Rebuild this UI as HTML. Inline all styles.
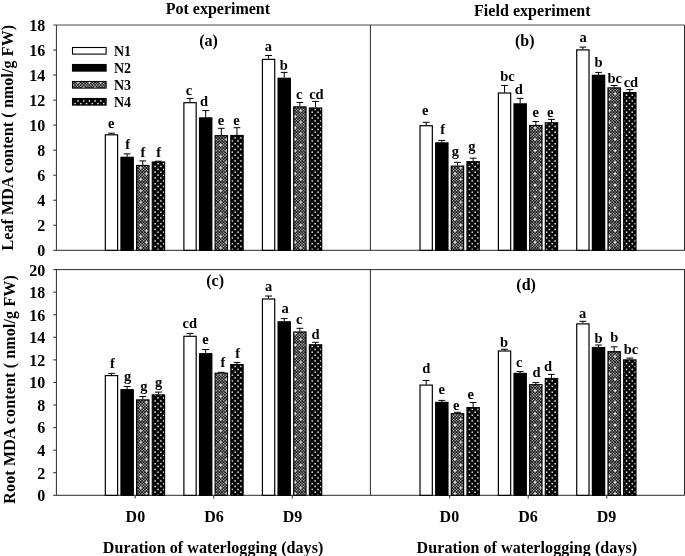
<!DOCTYPE html>
<html lang="en"><head><meta charset="utf-8"><title>MDA content under waterlogging</title>
<style>html,body{margin:0;padding:0;background:#fff}body{width:685px;height:556px;overflow:hidden}svg{display:block;will-change:transform;transform:translateZ(0)}</style>
</head><body>
<svg width="685" height="556" viewBox="0 0 685 556" font-family="'Liberation Serif', 'Times New Roman', serif" font-weight="bold" fill="#000">
<defs>
<pattern id="p3" patternUnits="userSpaceOnUse" width="40" height="40" x="0.085" y="0.085"><rect width="40" height="40" fill="#cfcfcf"/><path d="M-0.080 1.349h1.589v1.589h-1.589zM-0.080 4.206h1.589v1.589h-1.589zM-0.080 7.063h1.589v1.589h-1.589zM-0.080 9.920h1.589v1.589h-1.589zM-0.080 12.777h1.589v1.589h-1.589zM-0.080 15.634h1.589v1.589h-1.589zM-0.080 18.491h1.589v1.589h-1.589zM-0.080 21.349h1.589v1.589h-1.589zM-0.080 24.206h1.589v1.589h-1.589zM-0.080 27.063h1.589v1.589h-1.589zM-0.080 29.920h1.589v1.589h-1.589zM-0.080 32.777h1.589v1.589h-1.589zM-0.080 35.634h1.589v1.589h-1.589zM-0.080 38.491h1.589v1.589h-1.589zM1.349 -0.080h1.589v1.589h-1.589zM1.349 2.777h1.589v1.589h-1.589zM1.349 5.634h1.589v1.589h-1.589zM1.349 8.491h1.589v1.589h-1.589zM1.349 11.349h1.589v1.589h-1.589zM1.349 14.206h1.589v1.589h-1.589zM1.349 17.063h1.589v1.589h-1.589zM1.349 19.920h1.589v1.589h-1.589zM1.349 22.777h1.589v1.589h-1.589zM1.349 25.634h1.589v1.589h-1.589zM1.349 28.491h1.589v1.589h-1.589zM1.349 31.349h1.589v1.589h-1.589zM1.349 34.206h1.589v1.589h-1.589zM1.349 37.063h1.589v1.589h-1.589zM2.777 1.349h1.589v1.589h-1.589zM2.777 4.206h1.589v1.589h-1.589zM2.777 7.063h1.589v1.589h-1.589zM2.777 9.920h1.589v1.589h-1.589zM2.777 12.777h1.589v1.589h-1.589zM2.777 15.634h1.589v1.589h-1.589zM2.777 18.491h1.589v1.589h-1.589zM2.777 21.349h1.589v1.589h-1.589zM2.777 24.206h1.589v1.589h-1.589zM2.777 27.063h1.589v1.589h-1.589zM2.777 29.920h1.589v1.589h-1.589zM2.777 32.777h1.589v1.589h-1.589zM2.777 35.634h1.589v1.589h-1.589zM2.777 38.491h1.589v1.589h-1.589zM4.206 -0.080h1.589v1.589h-1.589zM4.206 2.777h1.589v1.589h-1.589zM4.206 5.634h1.589v1.589h-1.589zM4.206 8.491h1.589v1.589h-1.589zM4.206 11.349h1.589v1.589h-1.589zM4.206 14.206h1.589v1.589h-1.589zM4.206 17.063h1.589v1.589h-1.589zM4.206 19.920h1.589v1.589h-1.589zM4.206 22.777h1.589v1.589h-1.589zM4.206 25.634h1.589v1.589h-1.589zM4.206 28.491h1.589v1.589h-1.589zM4.206 31.349h1.589v1.589h-1.589zM4.206 34.206h1.589v1.589h-1.589zM4.206 37.063h1.589v1.589h-1.589zM5.634 1.349h1.589v1.589h-1.589zM5.634 4.206h1.589v1.589h-1.589zM5.634 7.063h1.589v1.589h-1.589zM5.634 9.920h1.589v1.589h-1.589zM5.634 12.777h1.589v1.589h-1.589zM5.634 15.634h1.589v1.589h-1.589zM5.634 18.491h1.589v1.589h-1.589zM5.634 21.349h1.589v1.589h-1.589zM5.634 24.206h1.589v1.589h-1.589zM5.634 27.063h1.589v1.589h-1.589zM5.634 29.920h1.589v1.589h-1.589zM5.634 32.777h1.589v1.589h-1.589zM5.634 35.634h1.589v1.589h-1.589zM5.634 38.491h1.589v1.589h-1.589zM7.063 -0.080h1.589v1.589h-1.589zM7.063 2.777h1.589v1.589h-1.589zM7.063 5.634h1.589v1.589h-1.589zM7.063 8.491h1.589v1.589h-1.589zM7.063 11.349h1.589v1.589h-1.589zM7.063 14.206h1.589v1.589h-1.589zM7.063 17.063h1.589v1.589h-1.589zM7.063 19.920h1.589v1.589h-1.589zM7.063 22.777h1.589v1.589h-1.589zM7.063 25.634h1.589v1.589h-1.589zM7.063 28.491h1.589v1.589h-1.589zM7.063 31.349h1.589v1.589h-1.589zM7.063 34.206h1.589v1.589h-1.589zM7.063 37.063h1.589v1.589h-1.589zM8.491 1.349h1.589v1.589h-1.589zM8.491 4.206h1.589v1.589h-1.589zM8.491 7.063h1.589v1.589h-1.589zM8.491 9.920h1.589v1.589h-1.589zM8.491 12.777h1.589v1.589h-1.589zM8.491 15.634h1.589v1.589h-1.589zM8.491 18.491h1.589v1.589h-1.589zM8.491 21.349h1.589v1.589h-1.589zM8.491 24.206h1.589v1.589h-1.589zM8.491 27.063h1.589v1.589h-1.589zM8.491 29.920h1.589v1.589h-1.589zM8.491 32.777h1.589v1.589h-1.589zM8.491 35.634h1.589v1.589h-1.589zM8.491 38.491h1.589v1.589h-1.589zM9.920 -0.080h1.589v1.589h-1.589zM9.920 2.777h1.589v1.589h-1.589zM9.920 5.634h1.589v1.589h-1.589zM9.920 8.491h1.589v1.589h-1.589zM9.920 11.349h1.589v1.589h-1.589zM9.920 14.206h1.589v1.589h-1.589zM9.920 17.063h1.589v1.589h-1.589zM9.920 19.920h1.589v1.589h-1.589zM9.920 22.777h1.589v1.589h-1.589zM9.920 25.634h1.589v1.589h-1.589zM9.920 28.491h1.589v1.589h-1.589zM9.920 31.349h1.589v1.589h-1.589zM9.920 34.206h1.589v1.589h-1.589zM9.920 37.063h1.589v1.589h-1.589zM11.349 1.349h1.589v1.589h-1.589zM11.349 4.206h1.589v1.589h-1.589zM11.349 7.063h1.589v1.589h-1.589zM11.349 9.920h1.589v1.589h-1.589zM11.349 12.777h1.589v1.589h-1.589zM11.349 15.634h1.589v1.589h-1.589zM11.349 18.491h1.589v1.589h-1.589zM11.349 21.349h1.589v1.589h-1.589zM11.349 24.206h1.589v1.589h-1.589zM11.349 27.063h1.589v1.589h-1.589zM11.349 29.920h1.589v1.589h-1.589zM11.349 32.777h1.589v1.589h-1.589zM11.349 35.634h1.589v1.589h-1.589zM11.349 38.491h1.589v1.589h-1.589zM12.777 -0.080h1.589v1.589h-1.589zM12.777 2.777h1.589v1.589h-1.589zM12.777 5.634h1.589v1.589h-1.589zM12.777 8.491h1.589v1.589h-1.589zM12.777 11.349h1.589v1.589h-1.589zM12.777 14.206h1.589v1.589h-1.589zM12.777 17.063h1.589v1.589h-1.589zM12.777 19.920h1.589v1.589h-1.589zM12.777 22.777h1.589v1.589h-1.589zM12.777 25.634h1.589v1.589h-1.589zM12.777 28.491h1.589v1.589h-1.589zM12.777 31.349h1.589v1.589h-1.589zM12.777 34.206h1.589v1.589h-1.589zM12.777 37.063h1.589v1.589h-1.589zM14.206 1.349h1.589v1.589h-1.589zM14.206 4.206h1.589v1.589h-1.589zM14.206 7.063h1.589v1.589h-1.589zM14.206 9.920h1.589v1.589h-1.589zM14.206 12.777h1.589v1.589h-1.589zM14.206 15.634h1.589v1.589h-1.589zM14.206 18.491h1.589v1.589h-1.589zM14.206 21.349h1.589v1.589h-1.589zM14.206 24.206h1.589v1.589h-1.589zM14.206 27.063h1.589v1.589h-1.589zM14.206 29.920h1.589v1.589h-1.589zM14.206 32.777h1.589v1.589h-1.589zM14.206 35.634h1.589v1.589h-1.589zM14.206 38.491h1.589v1.589h-1.589zM15.634 -0.080h1.589v1.589h-1.589zM15.634 2.777h1.589v1.589h-1.589zM15.634 5.634h1.589v1.589h-1.589zM15.634 8.491h1.589v1.589h-1.589zM15.634 11.349h1.589v1.589h-1.589zM15.634 14.206h1.589v1.589h-1.589zM15.634 17.063h1.589v1.589h-1.589zM15.634 19.920h1.589v1.589h-1.589zM15.634 22.777h1.589v1.589h-1.589zM15.634 25.634h1.589v1.589h-1.589zM15.634 28.491h1.589v1.589h-1.589zM15.634 31.349h1.589v1.589h-1.589zM15.634 34.206h1.589v1.589h-1.589zM15.634 37.063h1.589v1.589h-1.589zM17.063 1.349h1.589v1.589h-1.589zM17.063 4.206h1.589v1.589h-1.589zM17.063 7.063h1.589v1.589h-1.589zM17.063 9.920h1.589v1.589h-1.589zM17.063 12.777h1.589v1.589h-1.589zM17.063 15.634h1.589v1.589h-1.589zM17.063 18.491h1.589v1.589h-1.589zM17.063 21.349h1.589v1.589h-1.589zM17.063 24.206h1.589v1.589h-1.589zM17.063 27.063h1.589v1.589h-1.589zM17.063 29.920h1.589v1.589h-1.589zM17.063 32.777h1.589v1.589h-1.589zM17.063 35.634h1.589v1.589h-1.589zM17.063 38.491h1.589v1.589h-1.589zM18.491 -0.080h1.589v1.589h-1.589zM18.491 2.777h1.589v1.589h-1.589zM18.491 5.634h1.589v1.589h-1.589zM18.491 8.491h1.589v1.589h-1.589zM18.491 11.349h1.589v1.589h-1.589zM18.491 14.206h1.589v1.589h-1.589zM18.491 17.063h1.589v1.589h-1.589zM18.491 19.920h1.589v1.589h-1.589zM18.491 22.777h1.589v1.589h-1.589zM18.491 25.634h1.589v1.589h-1.589zM18.491 28.491h1.589v1.589h-1.589zM18.491 31.349h1.589v1.589h-1.589zM18.491 34.206h1.589v1.589h-1.589zM18.491 37.063h1.589v1.589h-1.589zM19.920 1.349h1.589v1.589h-1.589zM19.920 4.206h1.589v1.589h-1.589zM19.920 7.063h1.589v1.589h-1.589zM19.920 9.920h1.589v1.589h-1.589zM19.920 12.777h1.589v1.589h-1.589zM19.920 15.634h1.589v1.589h-1.589zM19.920 18.491h1.589v1.589h-1.589zM19.920 21.349h1.589v1.589h-1.589zM19.920 24.206h1.589v1.589h-1.589zM19.920 27.063h1.589v1.589h-1.589zM19.920 29.920h1.589v1.589h-1.589zM19.920 32.777h1.589v1.589h-1.589zM19.920 35.634h1.589v1.589h-1.589zM19.920 38.491h1.589v1.589h-1.589zM21.349 -0.080h1.589v1.589h-1.589zM21.349 2.777h1.589v1.589h-1.589zM21.349 5.634h1.589v1.589h-1.589zM21.349 8.491h1.589v1.589h-1.589zM21.349 11.349h1.589v1.589h-1.589zM21.349 14.206h1.589v1.589h-1.589zM21.349 17.063h1.589v1.589h-1.589zM21.349 19.920h1.589v1.589h-1.589zM21.349 22.777h1.589v1.589h-1.589zM21.349 25.634h1.589v1.589h-1.589zM21.349 28.491h1.589v1.589h-1.589zM21.349 31.349h1.589v1.589h-1.589zM21.349 34.206h1.589v1.589h-1.589zM21.349 37.063h1.589v1.589h-1.589zM22.777 1.349h1.589v1.589h-1.589zM22.777 4.206h1.589v1.589h-1.589zM22.777 7.063h1.589v1.589h-1.589zM22.777 9.920h1.589v1.589h-1.589zM22.777 12.777h1.589v1.589h-1.589zM22.777 15.634h1.589v1.589h-1.589zM22.777 18.491h1.589v1.589h-1.589zM22.777 21.349h1.589v1.589h-1.589zM22.777 24.206h1.589v1.589h-1.589zM22.777 27.063h1.589v1.589h-1.589zM22.777 29.920h1.589v1.589h-1.589zM22.777 32.777h1.589v1.589h-1.589zM22.777 35.634h1.589v1.589h-1.589zM22.777 38.491h1.589v1.589h-1.589zM24.206 -0.080h1.589v1.589h-1.589zM24.206 2.777h1.589v1.589h-1.589zM24.206 5.634h1.589v1.589h-1.589zM24.206 8.491h1.589v1.589h-1.589zM24.206 11.349h1.589v1.589h-1.589zM24.206 14.206h1.589v1.589h-1.589zM24.206 17.063h1.589v1.589h-1.589zM24.206 19.920h1.589v1.589h-1.589zM24.206 22.777h1.589v1.589h-1.589zM24.206 25.634h1.589v1.589h-1.589zM24.206 28.491h1.589v1.589h-1.589zM24.206 31.349h1.589v1.589h-1.589zM24.206 34.206h1.589v1.589h-1.589zM24.206 37.063h1.589v1.589h-1.589zM25.634 1.349h1.589v1.589h-1.589zM25.634 4.206h1.589v1.589h-1.589zM25.634 7.063h1.589v1.589h-1.589zM25.634 9.920h1.589v1.589h-1.589zM25.634 12.777h1.589v1.589h-1.589zM25.634 15.634h1.589v1.589h-1.589zM25.634 18.491h1.589v1.589h-1.589zM25.634 21.349h1.589v1.589h-1.589zM25.634 24.206h1.589v1.589h-1.589zM25.634 27.063h1.589v1.589h-1.589zM25.634 29.920h1.589v1.589h-1.589zM25.634 32.777h1.589v1.589h-1.589zM25.634 35.634h1.589v1.589h-1.589zM25.634 38.491h1.589v1.589h-1.589zM27.063 -0.080h1.589v1.589h-1.589zM27.063 2.777h1.589v1.589h-1.589zM27.063 5.634h1.589v1.589h-1.589zM27.063 8.491h1.589v1.589h-1.589zM27.063 11.349h1.589v1.589h-1.589zM27.063 14.206h1.589v1.589h-1.589zM27.063 17.063h1.589v1.589h-1.589zM27.063 19.920h1.589v1.589h-1.589zM27.063 22.777h1.589v1.589h-1.589zM27.063 25.634h1.589v1.589h-1.589zM27.063 28.491h1.589v1.589h-1.589zM27.063 31.349h1.589v1.589h-1.589zM27.063 34.206h1.589v1.589h-1.589zM27.063 37.063h1.589v1.589h-1.589zM28.491 1.349h1.589v1.589h-1.589zM28.491 4.206h1.589v1.589h-1.589zM28.491 7.063h1.589v1.589h-1.589zM28.491 9.920h1.589v1.589h-1.589zM28.491 12.777h1.589v1.589h-1.589zM28.491 15.634h1.589v1.589h-1.589zM28.491 18.491h1.589v1.589h-1.589zM28.491 21.349h1.589v1.589h-1.589zM28.491 24.206h1.589v1.589h-1.589zM28.491 27.063h1.589v1.589h-1.589zM28.491 29.920h1.589v1.589h-1.589zM28.491 32.777h1.589v1.589h-1.589zM28.491 35.634h1.589v1.589h-1.589zM28.491 38.491h1.589v1.589h-1.589zM29.920 -0.080h1.589v1.589h-1.589zM29.920 2.777h1.589v1.589h-1.589zM29.920 5.634h1.589v1.589h-1.589zM29.920 8.491h1.589v1.589h-1.589zM29.920 11.349h1.589v1.589h-1.589zM29.920 14.206h1.589v1.589h-1.589zM29.920 17.063h1.589v1.589h-1.589zM29.920 19.920h1.589v1.589h-1.589zM29.920 22.777h1.589v1.589h-1.589zM29.920 25.634h1.589v1.589h-1.589zM29.920 28.491h1.589v1.589h-1.589zM29.920 31.349h1.589v1.589h-1.589zM29.920 34.206h1.589v1.589h-1.589zM29.920 37.063h1.589v1.589h-1.589zM31.349 1.349h1.589v1.589h-1.589zM31.349 4.206h1.589v1.589h-1.589zM31.349 7.063h1.589v1.589h-1.589zM31.349 9.920h1.589v1.589h-1.589zM31.349 12.777h1.589v1.589h-1.589zM31.349 15.634h1.589v1.589h-1.589zM31.349 18.491h1.589v1.589h-1.589zM31.349 21.349h1.589v1.589h-1.589zM31.349 24.206h1.589v1.589h-1.589zM31.349 27.063h1.589v1.589h-1.589zM31.349 29.920h1.589v1.589h-1.589zM31.349 32.777h1.589v1.589h-1.589zM31.349 35.634h1.589v1.589h-1.589zM31.349 38.491h1.589v1.589h-1.589zM32.777 -0.080h1.589v1.589h-1.589zM32.777 2.777h1.589v1.589h-1.589zM32.777 5.634h1.589v1.589h-1.589zM32.777 8.491h1.589v1.589h-1.589zM32.777 11.349h1.589v1.589h-1.589zM32.777 14.206h1.589v1.589h-1.589zM32.777 17.063h1.589v1.589h-1.589zM32.777 19.920h1.589v1.589h-1.589zM32.777 22.777h1.589v1.589h-1.589zM32.777 25.634h1.589v1.589h-1.589zM32.777 28.491h1.589v1.589h-1.589zM32.777 31.349h1.589v1.589h-1.589zM32.777 34.206h1.589v1.589h-1.589zM32.777 37.063h1.589v1.589h-1.589zM34.206 1.349h1.589v1.589h-1.589zM34.206 4.206h1.589v1.589h-1.589zM34.206 7.063h1.589v1.589h-1.589zM34.206 9.920h1.589v1.589h-1.589zM34.206 12.777h1.589v1.589h-1.589zM34.206 15.634h1.589v1.589h-1.589zM34.206 18.491h1.589v1.589h-1.589zM34.206 21.349h1.589v1.589h-1.589zM34.206 24.206h1.589v1.589h-1.589zM34.206 27.063h1.589v1.589h-1.589zM34.206 29.920h1.589v1.589h-1.589zM34.206 32.777h1.589v1.589h-1.589zM34.206 35.634h1.589v1.589h-1.589zM34.206 38.491h1.589v1.589h-1.589zM35.634 -0.080h1.589v1.589h-1.589zM35.634 2.777h1.589v1.589h-1.589zM35.634 5.634h1.589v1.589h-1.589zM35.634 8.491h1.589v1.589h-1.589zM35.634 11.349h1.589v1.589h-1.589zM35.634 14.206h1.589v1.589h-1.589zM35.634 17.063h1.589v1.589h-1.589zM35.634 19.920h1.589v1.589h-1.589zM35.634 22.777h1.589v1.589h-1.589zM35.634 25.634h1.589v1.589h-1.589zM35.634 28.491h1.589v1.589h-1.589zM35.634 31.349h1.589v1.589h-1.589zM35.634 34.206h1.589v1.589h-1.589zM35.634 37.063h1.589v1.589h-1.589zM37.063 1.349h1.589v1.589h-1.589zM37.063 4.206h1.589v1.589h-1.589zM37.063 7.063h1.589v1.589h-1.589zM37.063 9.920h1.589v1.589h-1.589zM37.063 12.777h1.589v1.589h-1.589zM37.063 15.634h1.589v1.589h-1.589zM37.063 18.491h1.589v1.589h-1.589zM37.063 21.349h1.589v1.589h-1.589zM37.063 24.206h1.589v1.589h-1.589zM37.063 27.063h1.589v1.589h-1.589zM37.063 29.920h1.589v1.589h-1.589zM37.063 32.777h1.589v1.589h-1.589zM37.063 35.634h1.589v1.589h-1.589zM37.063 38.491h1.589v1.589h-1.589zM38.491 -0.080h1.589v1.589h-1.589zM38.491 2.777h1.589v1.589h-1.589zM38.491 5.634h1.589v1.589h-1.589zM38.491 8.491h1.589v1.589h-1.589zM38.491 11.349h1.589v1.589h-1.589zM38.491 14.206h1.589v1.589h-1.589zM38.491 17.063h1.589v1.589h-1.589zM38.491 19.920h1.589v1.589h-1.589zM38.491 22.777h1.589v1.589h-1.589zM38.491 25.634h1.589v1.589h-1.589zM38.491 28.491h1.589v1.589h-1.589zM38.491 31.349h1.589v1.589h-1.589zM38.491 34.206h1.589v1.589h-1.589zM38.491 37.063h1.589v1.589h-1.589z" fill="#000"/></pattern>
<pattern id="p3s" patternUnits="userSpaceOnUse" width="80" height="80" x="0.085" y="0.085"><path d="M2.557 6.843h2.029v2.029h-2.029zM2.557 18.271h2.029v2.029h-2.029zM2.557 29.700h2.029v2.029h-2.029zM2.557 41.129h2.029v2.029h-2.029zM2.557 52.557h2.029v2.029h-2.029zM2.557 63.986h2.029v2.029h-2.029zM2.557 75.414h2.029v2.029h-2.029zM8.271 1.129h2.029v2.029h-2.029zM8.271 12.557h2.029v2.029h-2.029zM8.271 23.986h2.029v2.029h-2.029zM8.271 35.414h2.029v2.029h-2.029zM8.271 46.843h2.029v2.029h-2.029zM8.271 58.271h2.029v2.029h-2.029zM8.271 69.700h2.029v2.029h-2.029zM13.986 6.843h2.029v2.029h-2.029zM13.986 18.271h2.029v2.029h-2.029zM13.986 29.700h2.029v2.029h-2.029zM13.986 41.129h2.029v2.029h-2.029zM13.986 52.557h2.029v2.029h-2.029zM13.986 63.986h2.029v2.029h-2.029zM13.986 75.414h2.029v2.029h-2.029zM19.700 1.129h2.029v2.029h-2.029zM19.700 12.557h2.029v2.029h-2.029zM19.700 23.986h2.029v2.029h-2.029zM19.700 35.414h2.029v2.029h-2.029zM19.700 46.843h2.029v2.029h-2.029zM19.700 58.271h2.029v2.029h-2.029zM19.700 69.700h2.029v2.029h-2.029zM25.414 6.843h2.029v2.029h-2.029zM25.414 18.271h2.029v2.029h-2.029zM25.414 29.700h2.029v2.029h-2.029zM25.414 41.129h2.029v2.029h-2.029zM25.414 52.557h2.029v2.029h-2.029zM25.414 63.986h2.029v2.029h-2.029zM25.414 75.414h2.029v2.029h-2.029zM31.129 1.129h2.029v2.029h-2.029zM31.129 12.557h2.029v2.029h-2.029zM31.129 23.986h2.029v2.029h-2.029zM31.129 35.414h2.029v2.029h-2.029zM31.129 46.843h2.029v2.029h-2.029zM31.129 58.271h2.029v2.029h-2.029zM31.129 69.700h2.029v2.029h-2.029zM36.843 6.843h2.029v2.029h-2.029zM36.843 18.271h2.029v2.029h-2.029zM36.843 29.700h2.029v2.029h-2.029zM36.843 41.129h2.029v2.029h-2.029zM36.843 52.557h2.029v2.029h-2.029zM36.843 63.986h2.029v2.029h-2.029zM36.843 75.414h2.029v2.029h-2.029zM42.557 1.129h2.029v2.029h-2.029zM42.557 12.557h2.029v2.029h-2.029zM42.557 23.986h2.029v2.029h-2.029zM42.557 35.414h2.029v2.029h-2.029zM42.557 46.843h2.029v2.029h-2.029zM42.557 58.271h2.029v2.029h-2.029zM42.557 69.700h2.029v2.029h-2.029zM48.271 6.843h2.029v2.029h-2.029zM48.271 18.271h2.029v2.029h-2.029zM48.271 29.700h2.029v2.029h-2.029zM48.271 41.129h2.029v2.029h-2.029zM48.271 52.557h2.029v2.029h-2.029zM48.271 63.986h2.029v2.029h-2.029zM48.271 75.414h2.029v2.029h-2.029zM53.986 1.129h2.029v2.029h-2.029zM53.986 12.557h2.029v2.029h-2.029zM53.986 23.986h2.029v2.029h-2.029zM53.986 35.414h2.029v2.029h-2.029zM53.986 46.843h2.029v2.029h-2.029zM53.986 58.271h2.029v2.029h-2.029zM53.986 69.700h2.029v2.029h-2.029zM59.700 6.843h2.029v2.029h-2.029zM59.700 18.271h2.029v2.029h-2.029zM59.700 29.700h2.029v2.029h-2.029zM59.700 41.129h2.029v2.029h-2.029zM59.700 52.557h2.029v2.029h-2.029zM59.700 63.986h2.029v2.029h-2.029zM59.700 75.414h2.029v2.029h-2.029zM65.414 1.129h2.029v2.029h-2.029zM65.414 12.557h2.029v2.029h-2.029zM65.414 23.986h2.029v2.029h-2.029zM65.414 35.414h2.029v2.029h-2.029zM65.414 46.843h2.029v2.029h-2.029zM65.414 58.271h2.029v2.029h-2.029zM65.414 69.700h2.029v2.029h-2.029zM71.129 6.843h2.029v2.029h-2.029zM71.129 18.271h2.029v2.029h-2.029zM71.129 29.700h2.029v2.029h-2.029zM71.129 41.129h2.029v2.029h-2.029zM71.129 52.557h2.029v2.029h-2.029zM71.129 63.986h2.029v2.029h-2.029zM71.129 75.414h2.029v2.029h-2.029zM76.843 1.129h2.029v2.029h-2.029zM76.843 12.557h2.029v2.029h-2.029zM76.843 23.986h2.029v2.029h-2.029zM76.843 35.414h2.029v2.029h-2.029zM76.843 46.843h2.029v2.029h-2.029zM76.843 58.271h2.029v2.029h-2.029zM76.843 69.700h2.029v2.029h-2.029z" fill="#e6e6e6"/></pattern>
<pattern id="p4" patternUnits="userSpaceOnUse" width="40" height="40" x="2.910" y="2.900"><rect width="40" height="40" fill="#000"/><path d="M0.000 0.000h1.5v1.5h-1.5zM2.857 2.857h1.5v1.5h-1.5zM0.000 5.714h1.5v1.5h-1.5zM2.857 8.571h1.5v1.5h-1.5zM0.000 11.429h1.5v1.5h-1.5zM2.857 14.286h1.5v1.5h-1.5zM0.000 17.143h1.5v1.5h-1.5zM2.857 20.000h1.5v1.5h-1.5zM0.000 22.857h1.5v1.5h-1.5zM2.857 25.714h1.5v1.5h-1.5zM0.000 28.571h1.5v1.5h-1.5zM2.857 31.429h1.5v1.5h-1.5zM0.000 34.286h1.5v1.5h-1.5zM2.857 37.143h1.5v1.5h-1.5zM5.714 0.000h1.5v1.5h-1.5zM8.571 2.857h1.5v1.5h-1.5zM5.714 5.714h1.5v1.5h-1.5zM8.571 8.571h1.5v1.5h-1.5zM5.714 11.429h1.5v1.5h-1.5zM8.571 14.286h1.5v1.5h-1.5zM5.714 17.143h1.5v1.5h-1.5zM8.571 20.000h1.5v1.5h-1.5zM5.714 22.857h1.5v1.5h-1.5zM8.571 25.714h1.5v1.5h-1.5zM5.714 28.571h1.5v1.5h-1.5zM8.571 31.429h1.5v1.5h-1.5zM5.714 34.286h1.5v1.5h-1.5zM8.571 37.143h1.5v1.5h-1.5zM11.429 0.000h1.5v1.5h-1.5zM14.286 2.857h1.5v1.5h-1.5zM11.429 5.714h1.5v1.5h-1.5zM14.286 8.571h1.5v1.5h-1.5zM11.429 11.429h1.5v1.5h-1.5zM14.286 14.286h1.5v1.5h-1.5zM11.429 17.143h1.5v1.5h-1.5zM14.286 20.000h1.5v1.5h-1.5zM11.429 22.857h1.5v1.5h-1.5zM14.286 25.714h1.5v1.5h-1.5zM11.429 28.571h1.5v1.5h-1.5zM14.286 31.429h1.5v1.5h-1.5zM11.429 34.286h1.5v1.5h-1.5zM14.286 37.143h1.5v1.5h-1.5zM17.143 0.000h1.5v1.5h-1.5zM20.000 2.857h1.5v1.5h-1.5zM17.143 5.714h1.5v1.5h-1.5zM20.000 8.571h1.5v1.5h-1.5zM17.143 11.429h1.5v1.5h-1.5zM20.000 14.286h1.5v1.5h-1.5zM17.143 17.143h1.5v1.5h-1.5zM20.000 20.000h1.5v1.5h-1.5zM17.143 22.857h1.5v1.5h-1.5zM20.000 25.714h1.5v1.5h-1.5zM17.143 28.571h1.5v1.5h-1.5zM20.000 31.429h1.5v1.5h-1.5zM17.143 34.286h1.5v1.5h-1.5zM20.000 37.143h1.5v1.5h-1.5zM22.857 0.000h1.5v1.5h-1.5zM25.714 2.857h1.5v1.5h-1.5zM22.857 5.714h1.5v1.5h-1.5zM25.714 8.571h1.5v1.5h-1.5zM22.857 11.429h1.5v1.5h-1.5zM25.714 14.286h1.5v1.5h-1.5zM22.857 17.143h1.5v1.5h-1.5zM25.714 20.000h1.5v1.5h-1.5zM22.857 22.857h1.5v1.5h-1.5zM25.714 25.714h1.5v1.5h-1.5zM22.857 28.571h1.5v1.5h-1.5zM25.714 31.429h1.5v1.5h-1.5zM22.857 34.286h1.5v1.5h-1.5zM25.714 37.143h1.5v1.5h-1.5zM28.571 0.000h1.5v1.5h-1.5zM31.429 2.857h1.5v1.5h-1.5zM28.571 5.714h1.5v1.5h-1.5zM31.429 8.571h1.5v1.5h-1.5zM28.571 11.429h1.5v1.5h-1.5zM31.429 14.286h1.5v1.5h-1.5zM28.571 17.143h1.5v1.5h-1.5zM31.429 20.000h1.5v1.5h-1.5zM28.571 22.857h1.5v1.5h-1.5zM31.429 25.714h1.5v1.5h-1.5zM28.571 28.571h1.5v1.5h-1.5zM31.429 31.429h1.5v1.5h-1.5zM28.571 34.286h1.5v1.5h-1.5zM31.429 37.143h1.5v1.5h-1.5zM34.286 0.000h1.5v1.5h-1.5zM37.143 2.857h1.5v1.5h-1.5zM34.286 5.714h1.5v1.5h-1.5zM37.143 8.571h1.5v1.5h-1.5zM34.286 11.429h1.5v1.5h-1.5zM37.143 14.286h1.5v1.5h-1.5zM34.286 17.143h1.5v1.5h-1.5zM37.143 20.000h1.5v1.5h-1.5zM34.286 22.857h1.5v1.5h-1.5zM37.143 25.714h1.5v1.5h-1.5zM34.286 28.571h1.5v1.5h-1.5zM37.143 31.429h1.5v1.5h-1.5zM34.286 34.286h1.5v1.5h-1.5zM37.143 37.143h1.5v1.5h-1.5z" fill="#fff"/></pattern>
</defs>
<rect width="685" height="556" fill="#fff"/>
<g stroke="#2a2a2a" stroke-width="1" fill="none">
<line x1="53.199999999999996" y1="25.0" x2="684.7" y2="25.0" stroke="#4a4a4a"/>
<line x1="53.199999999999996" y1="250.3" x2="684.7" y2="250.3"/>
<line x1="56.4" y1="25.0" x2="56.4" y2="250.3"/>
<line x1="370.4" y1="25.0" x2="370.4" y2="250.3"/>
<line x1="684.7" y1="25.0" x2="684.7" y2="250.3" stroke="#111" stroke-width="1.2"/>
<line x1="53.199999999999996" y1="269.6" x2="684.7" y2="269.6" stroke="#2a2a2a"/>
<line x1="53.199999999999996" y1="495.3" x2="684.7" y2="495.3"/>
<line x1="56.4" y1="269.6" x2="56.4" y2="495.3"/>
<line x1="370.4" y1="269.6" x2="370.4" y2="495.3"/>
<line x1="684.7" y1="269.6" x2="684.7" y2="495.3" stroke="#111" stroke-width="1.2"/>
<line x1="53.199999999999996" y1="225.27" x2="56.4" y2="225.27"/>
<line x1="53.199999999999996" y1="200.23" x2="56.4" y2="200.23"/>
<line x1="53.199999999999996" y1="175.20" x2="56.4" y2="175.20"/>
<line x1="53.199999999999996" y1="150.17" x2="56.4" y2="150.17"/>
<line x1="53.199999999999996" y1="125.13" x2="56.4" y2="125.13"/>
<line x1="53.199999999999996" y1="100.10" x2="56.4" y2="100.10"/>
<line x1="53.199999999999996" y1="75.07" x2="56.4" y2="75.07"/>
<line x1="53.199999999999996" y1="50.03" x2="56.4" y2="50.03"/>
<line x1="53.199999999999996" y1="472.73" x2="56.4" y2="472.73"/>
<line x1="53.199999999999996" y1="450.16" x2="56.4" y2="450.16"/>
<line x1="53.199999999999996" y1="427.59" x2="56.4" y2="427.59"/>
<line x1="53.199999999999996" y1="405.02" x2="56.4" y2="405.02"/>
<line x1="53.199999999999996" y1="382.45" x2="56.4" y2="382.45"/>
<line x1="53.199999999999996" y1="359.88" x2="56.4" y2="359.88"/>
<line x1="53.199999999999996" y1="337.31" x2="56.4" y2="337.31"/>
<line x1="53.199999999999996" y1="314.74" x2="56.4" y2="314.74"/>
<line x1="53.199999999999996" y1="292.17" x2="56.4" y2="292.17"/>
<line x1="135.15" y1="495.3" x2="135.15" y2="498.5"/>
<line x1="213.70" y1="495.3" x2="213.70" y2="498.5"/>
<line x1="292.25" y1="495.3" x2="292.25" y2="498.5"/>
<line x1="449.65" y1="495.3" x2="449.65" y2="498.5"/>
<line x1="528.20" y1="495.3" x2="528.20" y2="498.5"/>
<line x1="606.75" y1="495.3" x2="606.75" y2="498.5"/>
</g>
<g font-size="16" text-anchor="end">
<text x="45.3" y="256.20">0</text>
<text x="45.3" y="231.17">2</text>
<text x="45.3" y="206.13">4</text>
<text x="45.3" y="181.10">6</text>
<text x="45.3" y="156.07">8</text>
<text x="45.3" y="131.03">10</text>
<text x="45.3" y="106.00">12</text>
<text x="45.3" y="80.97">14</text>
<text x="45.3" y="55.93">16</text>
<text x="45.3" y="30.90">18</text>
<text x="45.3" y="501.20">0</text>
<text x="45.3" y="478.63">2</text>
<text x="45.3" y="456.06">4</text>
<text x="45.3" y="433.49">6</text>
<text x="45.3" y="410.92">8</text>
<text x="45.3" y="388.35">10</text>
<text x="45.3" y="365.78">12</text>
<text x="45.3" y="343.21">14</text>
<text x="45.3" y="320.64">16</text>
<text x="45.3" y="298.07">18</text>
<text x="45.3" y="275.50">20</text>
</g>
<g id="panel-a">
<path d="M111.47 134.30V133.20M108.07 133.20H114.88" stroke="#000" stroke-width="1" fill="none"/>
<rect x="105.32" y="134.80" width="12.3" height="115.50" fill="#ffffff" stroke="#000" stroke-width="1.2"/>
<path d="M127.12 156.80V153.90M123.72 153.90H130.52" stroke="#000" stroke-width="1" fill="none"/>
<rect x="120.97" y="157.30" width="12.3" height="93.00" fill="#000000" stroke="#000" stroke-width="1.2"/>
<path d="M142.77 165.00V160.90M139.37 160.90H146.17" stroke="#000" stroke-width="1" fill="none"/>
<rect x="136.62" y="165.50" width="12.3" height="84.80" fill="url(#p3)" stroke="#000" stroke-width="1.2"/>
<rect x="137.22" y="166.10" width="11.10" height="83.70" fill="url(#p3s)"/>
<path d="M158.42 161.50V161.20M155.02 161.20H161.82" stroke="#000" stroke-width="1" fill="none"/>
<rect x="152.27" y="162.00" width="12.3" height="88.30" fill="url(#p4)" stroke="#000" stroke-width="1.2"/>
<path d="M190.03 102.20V98.40M186.62 98.40H193.43" stroke="#000" stroke-width="1" fill="none"/>
<rect x="183.88" y="102.70" width="12.3" height="147.60" fill="#ffffff" stroke="#000" stroke-width="1.2"/>
<path d="M205.68 117.40V110.60M202.28 110.60H209.08" stroke="#000" stroke-width="1" fill="none"/>
<rect x="199.53" y="117.90" width="12.3" height="132.40" fill="#000000" stroke="#000" stroke-width="1.2"/>
<path d="M221.32 135.20V128.30M217.92 128.30H224.72" stroke="#000" stroke-width="1" fill="none"/>
<rect x="215.17" y="135.70" width="12.3" height="114.60" fill="url(#p3)" stroke="#000" stroke-width="1.2"/>
<rect x="215.77" y="136.30" width="11.10" height="113.50" fill="url(#p3s)"/>
<path d="M236.97 135.00V127.70M233.57 127.70H240.38" stroke="#000" stroke-width="1" fill="none"/>
<rect x="230.82" y="135.50" width="12.3" height="114.80" fill="url(#p4)" stroke="#000" stroke-width="1.2"/>
<path d="M268.57 58.90V55.50M265.17 55.50H271.97" stroke="#000" stroke-width="1" fill="none"/>
<rect x="262.42" y="59.40" width="12.3" height="190.90" fill="#ffffff" stroke="#000" stroke-width="1.2"/>
<path d="M284.22 77.80V72.40M280.82 72.40H287.62" stroke="#000" stroke-width="1" fill="none"/>
<rect x="278.07" y="78.30" width="12.3" height="172.00" fill="#000000" stroke="#000" stroke-width="1.2"/>
<path d="M299.87 106.40V102.50M296.47 102.50H303.27" stroke="#000" stroke-width="1" fill="none"/>
<rect x="293.72" y="106.90" width="12.3" height="143.40" fill="url(#p3)" stroke="#000" stroke-width="1.2"/>
<rect x="294.32" y="107.50" width="11.10" height="142.30" fill="url(#p3s)"/>
<path d="M315.52 107.50V101.40M312.12 101.40H318.92" stroke="#000" stroke-width="1" fill="none"/>
<rect x="309.38" y="108.00" width="12.3" height="142.30" fill="url(#p4)" stroke="#000" stroke-width="1.2"/>
<g font-size="14.5" text-anchor="middle">
<text x="111.3" y="127.6">e</text>
<text x="127.6" y="148.7">f</text>
<text x="143.0" y="156.8">f</text>
<text x="158.6" y="156.8">f</text>
<text x="188.9" y="94.9">c</text>
<text x="204.0" y="106.3">d</text>
<text x="221.0" y="125.4">e</text>
<text x="236.5" y="125.4">e</text>
<text x="268.3" y="50.8">a</text>
<text x="283.7" y="70.0">b</text>
<text x="299.3" y="99.0">c</text>
<text x="316.4" y="99.0">cd</text>
</g>
</g>
<g id="panel-b">
<path d="M426.17 125.20V122.30M422.77 122.30H429.57" stroke="#000" stroke-width="1" fill="none"/>
<rect x="420.02" y="125.70" width="12.3" height="124.60" fill="#ffffff" stroke="#000" stroke-width="1.2"/>
<path d="M441.82 142.40V140.40M438.43 140.40H445.22" stroke="#000" stroke-width="1" fill="none"/>
<rect x="435.68" y="142.90" width="12.3" height="107.40" fill="#000000" stroke="#000" stroke-width="1.2"/>
<path d="M457.47 165.60V162.30M454.07 162.30H460.87" stroke="#000" stroke-width="1" fill="none"/>
<rect x="451.32" y="166.10" width="12.3" height="84.20" fill="url(#p3)" stroke="#000" stroke-width="1.2"/>
<rect x="451.93" y="166.70" width="11.10" height="83.10" fill="url(#p3s)"/>
<path d="M473.12 161.20V158.20M469.73 158.20H476.52" stroke="#000" stroke-width="1" fill="none"/>
<rect x="466.98" y="161.70" width="12.3" height="88.60" fill="url(#p4)" stroke="#000" stroke-width="1.2"/>
<path d="M504.52 92.50V85.50M501.12 85.50H507.92" stroke="#000" stroke-width="1" fill="none"/>
<rect x="498.38" y="93.00" width="12.3" height="157.30" fill="#ffffff" stroke="#000" stroke-width="1.2"/>
<path d="M520.17 103.40V98.30M516.77 98.30H523.57" stroke="#000" stroke-width="1" fill="none"/>
<rect x="514.02" y="103.90" width="12.3" height="146.40" fill="#000000" stroke="#000" stroke-width="1.2"/>
<path d="M535.83 125.00V121.50M532.43 121.50H539.23" stroke="#000" stroke-width="1" fill="none"/>
<rect x="529.68" y="125.50" width="12.3" height="124.80" fill="url(#p3)" stroke="#000" stroke-width="1.2"/>
<rect x="530.28" y="126.10" width="11.10" height="123.70" fill="url(#p3s)"/>
<path d="M551.48 122.30V119.40M548.08 119.40H554.88" stroke="#000" stroke-width="1" fill="none"/>
<rect x="545.33" y="122.80" width="12.3" height="127.50" fill="url(#p4)" stroke="#000" stroke-width="1.2"/>
<path d="M582.87 49.40V47.10M579.47 47.10H586.27" stroke="#000" stroke-width="1" fill="none"/>
<rect x="576.72" y="49.90" width="12.3" height="200.40" fill="#ffffff" stroke="#000" stroke-width="1.2"/>
<path d="M598.52 74.80V72.40M595.12 72.40H601.92" stroke="#000" stroke-width="1" fill="none"/>
<rect x="592.37" y="75.30" width="12.3" height="175.00" fill="#000000" stroke="#000" stroke-width="1.2"/>
<path d="M614.17 87.40V85.50M610.77 85.50H617.57" stroke="#000" stroke-width="1" fill="none"/>
<rect x="608.02" y="87.90" width="12.3" height="162.40" fill="url(#p3)" stroke="#000" stroke-width="1.2"/>
<rect x="608.62" y="88.50" width="11.10" height="161.30" fill="url(#p3s)"/>
<path d="M629.82 92.10V89.60M626.42 89.60H633.22" stroke="#000" stroke-width="1" fill="none"/>
<rect x="623.67" y="92.60" width="12.3" height="157.70" fill="url(#p4)" stroke="#000" stroke-width="1.2"/>
<g font-size="14.5" text-anchor="middle">
<text x="425.2" y="115.3">e</text>
<text x="442.6" y="134.3">f</text>
<text x="455.3" y="156.4">g</text>
<text x="471.9" y="151.0">g</text>
<text x="507.5" y="80.6">bc</text>
<text x="518.7" y="94.2">d</text>
<text x="535.6" y="116.5">e</text>
<text x="550.2" y="116.5">e</text>
<text x="583.2" y="41.8">a</text>
<text x="598.6" y="67.2">b</text>
<text x="614.8" y="82.7">bc</text>
<text x="630.9" y="86.5">cd</text>
</g>
</g>
<g id="panel-c">
<path d="M111.47 375.10V373.40M108.07 373.40H114.88" stroke="#000" stroke-width="1" fill="none"/>
<rect x="105.32" y="375.60" width="12.3" height="119.70" fill="#ffffff" stroke="#000" stroke-width="1.2"/>
<path d="M127.12 389.20V386.50M123.72 386.50H130.52" stroke="#000" stroke-width="1" fill="none"/>
<rect x="120.97" y="389.70" width="12.3" height="105.60" fill="#000000" stroke="#000" stroke-width="1.2"/>
<path d="M142.77 399.40V396.50M139.37 396.50H146.17" stroke="#000" stroke-width="1" fill="none"/>
<rect x="136.62" y="399.90" width="12.3" height="95.40" fill="url(#p3)" stroke="#000" stroke-width="1.2"/>
<rect x="137.22" y="400.50" width="11.10" height="94.30" fill="url(#p3s)"/>
<path d="M158.42 394.40V392.10M155.02 392.10H161.82" stroke="#000" stroke-width="1" fill="none"/>
<rect x="152.27" y="394.90" width="12.3" height="100.40" fill="url(#p4)" stroke="#000" stroke-width="1.2"/>
<path d="M190.03 335.80V333.40M186.62 333.40H193.43" stroke="#000" stroke-width="1" fill="none"/>
<rect x="183.88" y="336.30" width="12.3" height="159.00" fill="#ffffff" stroke="#000" stroke-width="1.2"/>
<path d="M205.68 353.20V349.50M202.28 349.50H209.08" stroke="#000" stroke-width="1" fill="none"/>
<rect x="199.53" y="353.70" width="12.3" height="141.60" fill="#000000" stroke="#000" stroke-width="1.2"/>
<path d="M221.32 372.70V372.30M217.92 372.30H224.72" stroke="#000" stroke-width="1" fill="none"/>
<rect x="215.17" y="373.20" width="12.3" height="122.10" fill="url(#p3)" stroke="#000" stroke-width="1.2"/>
<rect x="215.77" y="373.80" width="11.10" height="121.00" fill="url(#p3s)"/>
<path d="M236.97 364.10V362.40M233.57 362.40H240.38" stroke="#000" stroke-width="1" fill="none"/>
<rect x="230.82" y="364.60" width="12.3" height="130.70" fill="url(#p4)" stroke="#000" stroke-width="1.2"/>
<path d="M268.57 298.50V296.00M265.17 296.00H271.97" stroke="#000" stroke-width="1" fill="none"/>
<rect x="262.42" y="299.00" width="12.3" height="196.30" fill="#ffffff" stroke="#000" stroke-width="1.2"/>
<path d="M284.22 321.30V318.60M280.82 318.60H287.62" stroke="#000" stroke-width="1" fill="none"/>
<rect x="278.07" y="321.80" width="12.3" height="173.50" fill="#000000" stroke="#000" stroke-width="1.2"/>
<path d="M299.87 331.50V328.30M296.47 328.30H303.27" stroke="#000" stroke-width="1" fill="none"/>
<rect x="293.72" y="332.00" width="12.3" height="163.30" fill="url(#p3)" stroke="#000" stroke-width="1.2"/>
<rect x="294.32" y="332.60" width="11.10" height="162.20" fill="url(#p3s)"/>
<path d="M315.52 344.30V342.30M312.12 342.30H318.92" stroke="#000" stroke-width="1" fill="none"/>
<rect x="309.38" y="344.80" width="12.3" height="150.50" fill="url(#p4)" stroke="#000" stroke-width="1.2"/>
<g font-size="14.5" text-anchor="middle">
<text x="112.3" y="367.9">f</text>
<text x="127.5" y="380.8">g</text>
<text x="143.9" y="391.1">g</text>
<text x="158.5" y="386.6">g</text>
<text x="189.8" y="328.1">cd</text>
<text x="205.5" y="344.2">e</text>
<text x="223.0" y="367.4">f</text>
<text x="237.6" y="358.3">f</text>
<text x="268.6" y="291.1">a</text>
<text x="285.2" y="313.1">a</text>
<text x="299.3" y="323.6">c</text>
<text x="315.6" y="338.8">d</text>
</g>
</g>
<g id="panel-d">
<path d="M426.17 384.60V380.50M422.77 380.50H429.57" stroke="#000" stroke-width="1" fill="none"/>
<rect x="420.02" y="385.10" width="12.3" height="110.20" fill="#ffffff" stroke="#000" stroke-width="1.2"/>
<path d="M441.82 401.90V400.40M438.43 400.40H445.22" stroke="#000" stroke-width="1" fill="none"/>
<rect x="435.68" y="402.40" width="12.3" height="92.90" fill="#000000" stroke="#000" stroke-width="1.2"/>
<path d="M457.47 413.20V412.30M454.07 412.30H460.87" stroke="#000" stroke-width="1" fill="none"/>
<rect x="451.32" y="413.70" width="12.3" height="81.60" fill="url(#p3)" stroke="#000" stroke-width="1.2"/>
<rect x="451.93" y="414.30" width="11.10" height="80.50" fill="url(#p3s)"/>
<path d="M473.12 407.10V402.50M469.73 402.50H476.52" stroke="#000" stroke-width="1" fill="none"/>
<rect x="466.98" y="407.60" width="12.3" height="87.70" fill="url(#p4)" stroke="#000" stroke-width="1.2"/>
<path d="M504.52 350.50V349.30M501.12 349.30H507.92" stroke="#000" stroke-width="1" fill="none"/>
<rect x="498.38" y="351.00" width="12.3" height="144.30" fill="#ffffff" stroke="#000" stroke-width="1.2"/>
<path d="M520.17 372.90V371.50M516.77 371.50H523.57" stroke="#000" stroke-width="1" fill="none"/>
<rect x="514.02" y="373.40" width="12.3" height="121.90" fill="#000000" stroke="#000" stroke-width="1.2"/>
<path d="M535.83 384.20V382.60M532.43 382.60H539.23" stroke="#000" stroke-width="1" fill="none"/>
<rect x="529.68" y="384.70" width="12.3" height="110.60" fill="url(#p3)" stroke="#000" stroke-width="1.2"/>
<rect x="530.28" y="385.30" width="11.10" height="109.50" fill="url(#p3s)"/>
<path d="M551.48 378.00V374.40M548.08 374.40H554.88" stroke="#000" stroke-width="1" fill="none"/>
<rect x="545.33" y="378.50" width="12.3" height="116.80" fill="url(#p4)" stroke="#000" stroke-width="1.2"/>
<path d="M582.87 323.40V321.30M579.47 321.30H586.27" stroke="#000" stroke-width="1" fill="none"/>
<rect x="576.72" y="323.90" width="12.3" height="171.40" fill="#ffffff" stroke="#000" stroke-width="1.2"/>
<path d="M598.52 347.00V345.00M595.12 345.00H601.92" stroke="#000" stroke-width="1" fill="none"/>
<rect x="592.37" y="347.50" width="12.3" height="147.80" fill="#000000" stroke="#000" stroke-width="1.2"/>
<path d="M614.17 351.20V346.80M610.77 346.80H617.57" stroke="#000" stroke-width="1" fill="none"/>
<rect x="608.02" y="351.70" width="12.3" height="143.60" fill="url(#p3)" stroke="#000" stroke-width="1.2"/>
<rect x="608.62" y="352.30" width="11.10" height="142.50" fill="url(#p3s)"/>
<path d="M629.82 359.40V358.10M626.42 358.10H633.22" stroke="#000" stroke-width="1" fill="none"/>
<rect x="623.67" y="359.90" width="12.3" height="135.40" fill="url(#p4)" stroke="#000" stroke-width="1.2"/>
<g font-size="14.5" text-anchor="middle">
<text x="426.4" y="373.2">d</text>
<text x="441.6" y="393.6">e</text>
<text x="456.2" y="409.5">e</text>
<text x="470.8" y="399.2">e</text>
<text x="504.0" y="347.2">b</text>
<text x="519.2" y="366.6">c</text>
<text x="536.5" y="377.0">d</text>
<text x="548.1" y="371.2">d</text>
<text x="582.6" y="317.5">a</text>
<text x="598.6" y="342.5">b</text>
<text x="614.2" y="342.1">b</text>
<text x="630.9" y="354.0">bc</text>
</g>
</g>
<g id="legend">
<rect x="72.5" y="47.5" width="33.6" height="6.6" fill="#ffffff" stroke="#000" stroke-width="1.1"/>
<rect x="72.5" y="64.5" width="33.6" height="6.6" fill="#000000" stroke="#000" stroke-width="1.1"/>
<rect x="72.5" y="81.5" width="33.6" height="6.6" fill="url(#p3)" stroke="#000" stroke-width="1.1"/>
<rect x="73.1" y="82.1" width="32.4" height="5.4" fill="url(#p3s)"/>
<rect x="72.5" y="98.5" width="33.6" height="6.6" fill="url(#p4)" stroke="#000" stroke-width="1.1"/>
<g font-size="14">
<text x="114" y="55.7">N1</text>
<text x="114" y="72.7">N2</text>
<text x="114" y="89.7">N3</text>
<text x="114" y="106.7">N4</text>
</g></g>
<g font-size="16">
<text x="165.7" y="14.0">Pot experiment</text>
<text x="474.0" y="15.8" textLength="116.6" lengthAdjust="spacing">Field experiment</text>
<text x="208.5" y="46.2" text-anchor="middle">(a)</text>
<text x="524.7" y="46.0" text-anchor="middle">(b)</text>
<text x="215.1" y="285.8" text-anchor="middle">(c)</text>
<text x="526.1" y="289.7" text-anchor="middle">(d)</text>
<text x="135.4" y="521.5" text-anchor="middle">D0</text>
<text x="214.0" y="521.5" text-anchor="middle">D6</text>
<text x="292.5" y="521.5" text-anchor="middle">D9</text>
<text x="449.4" y="521.5" text-anchor="middle">D0</text>
<text x="528.0" y="521.5" text-anchor="middle">D6</text>
<text x="606.5" y="521.5" text-anchor="middle">D9</text>
<text x="102.8" y="552.7" textLength="220.5" lengthAdjust="spacing">Duration of waterlogging (days)</text>
<text x="416.6" y="552.7" textLength="220.5" lengthAdjust="spacing">Duration of waterlogging (days)</text>
<text transform="translate(13.0 250.6) rotate(-90)" textLength="225.7" lengthAdjust="spacing">Leaf MDA content ( nmol/g FW)</text>
<text transform="translate(14.6 503.7) rotate(-90)" textLength="228.5" lengthAdjust="spacing">Root MDA content ( nmol/g FW)</text>
</g>
</svg>
</body></html>
